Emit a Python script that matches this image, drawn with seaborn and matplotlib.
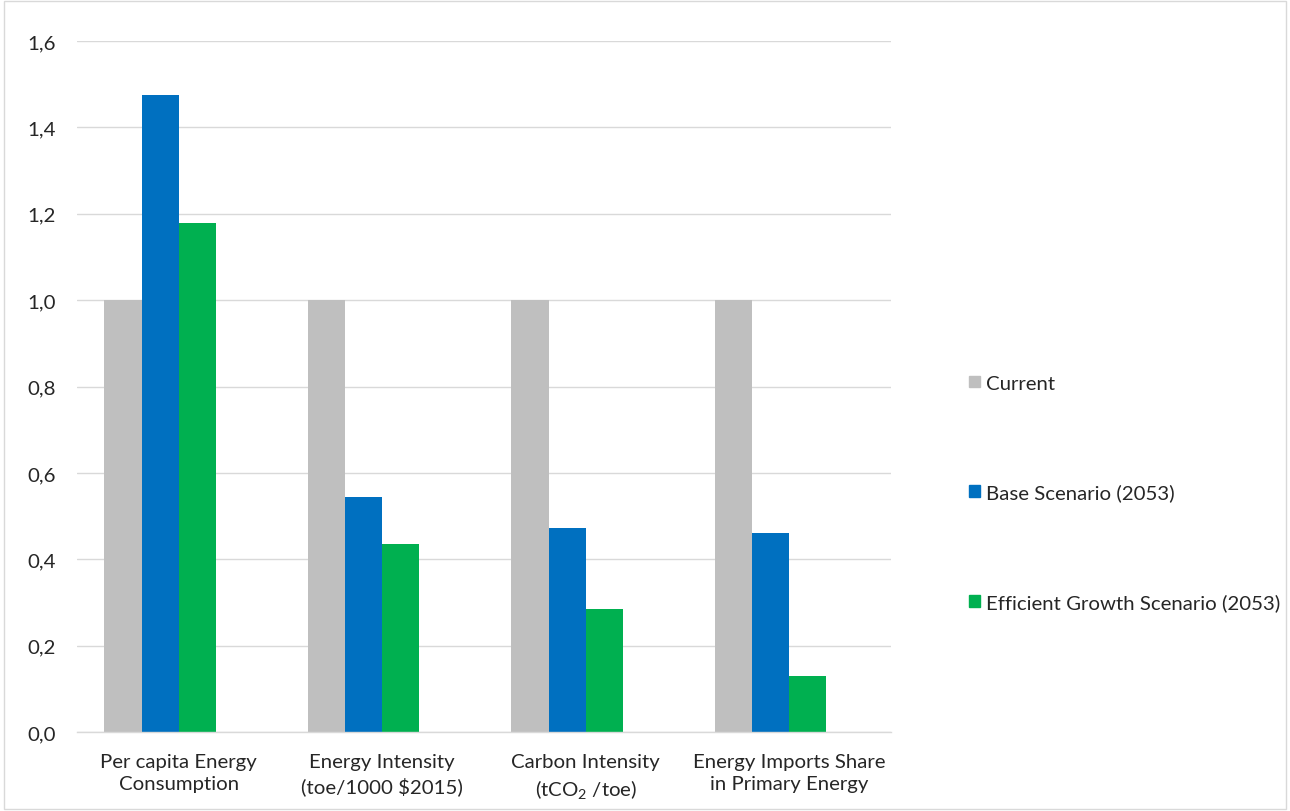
import matplotlib
matplotlib.use("Agg")
import matplotlib.pyplot as plt
import seaborn as sns
import pandas as pd
from matplotlib.patches import Patch

categories = ["Per capita Energy\nConsumption",
              "Energy Intensity\n(toe/1000 $2015)",
              "Carbon Intensity\n(t$\\mathregular{CO_2}$ /toe)",
              "Energy Imports Share\nin Primary Energy"]
series_names = ["Current", "Base Scenario (2053)", "Efficient Growth Scenario (2053)"]
current = [1.0, 1.0, 1.0, 1.0]
base = [1.475, 0.544, 0.472, 0.461]
efficient = [1.178, 0.435, 0.285, 0.130]
colors = ["#BFBFBF", "#0070C0", "#00B050"]
yticks = [0.0, 0.2, 0.4, 0.6, 0.8, 1.0, 1.2, 1.4, 1.6]
ytick_labels = ["0,0", "0,2", "0,4", "0,6", "0,8", "1,0", "1,2", "1,4", "1,6"]

sns.set_theme(style="white")
plt.rcParams['font.family'] = ['Lato', 'DejaVu Sans']
FS = 14.7

rows = []
for name, vals in zip(series_names, [current, base, efficient]):
    for c, v in zip(categories, vals):
        rows.append({"cat": c, "series": name, "value": v})
df = pd.DataFrame(rows)
# empty slot (as in the source chart, the group leaves room for a fourth, empty series)
hue_order = series_names + ["(empty)"]

fig = plt.figure(figsize=(12.9, 8.12), dpi=100)
ax = fig.add_axes([77/1290, 1-733/812, (891-77)/1290, (733-42)/812])
sns.barplot(data=df, x="cat", y="value", hue="series", order=categories,
            hue_order=hue_order, palette=colors + ["#FFFFFF"], width=0.732, linewidth=0,
            saturation=1, ax=ax, legend=False)
ax.set_xlim(-0.5, 3.5)
ax.set_ylim(0, 1.6)
ax.set_yticks(yticks)
ax.set_yticklabels(ytick_labels, fontsize=FS, color="#262626")
ax.tick_params(axis="x", labelsize=FS, colors="#262626", length=0, pad=15)
ax.tick_params(axis="y", length=0, pad=15)
for t in ax.get_xticklabels():
    t.set_linespacing(1.4)
ax.set_xlabel("")
ax.set_ylabel("")
ax.yaxis.grid(True, color="#D9D9D9", linewidth=1)
ax.set_axisbelow(True)
for s in ["top", "right", "left"]:
    ax.spines[s].set_visible(False)
ax.spines["bottom"].set_color("#D9D9D9")
ax.spines["bottom"].set_linewidth(1)

handles = [Patch(facecolor=c, edgecolor=c) for c in colors]
fig.legend(handles, series_names, loc="center left", bbox_to_anchor=(951/1290, 1-494/812),
           frameon=False, fontsize=FS, labelspacing=4.5, handlelength=0.5,
           handleheight=0.5, handletextpad=0.3, labelcolor="#262626")

border = plt.Rectangle((0.003, 0.003), 0.994, 0.994, transform=fig.transFigure,
                       fill=False, edgecolor="#D9D9D9", linewidth=1)
fig.patches.append(border)

fig.savefig("out.png", dpi=100, facecolor="white")
